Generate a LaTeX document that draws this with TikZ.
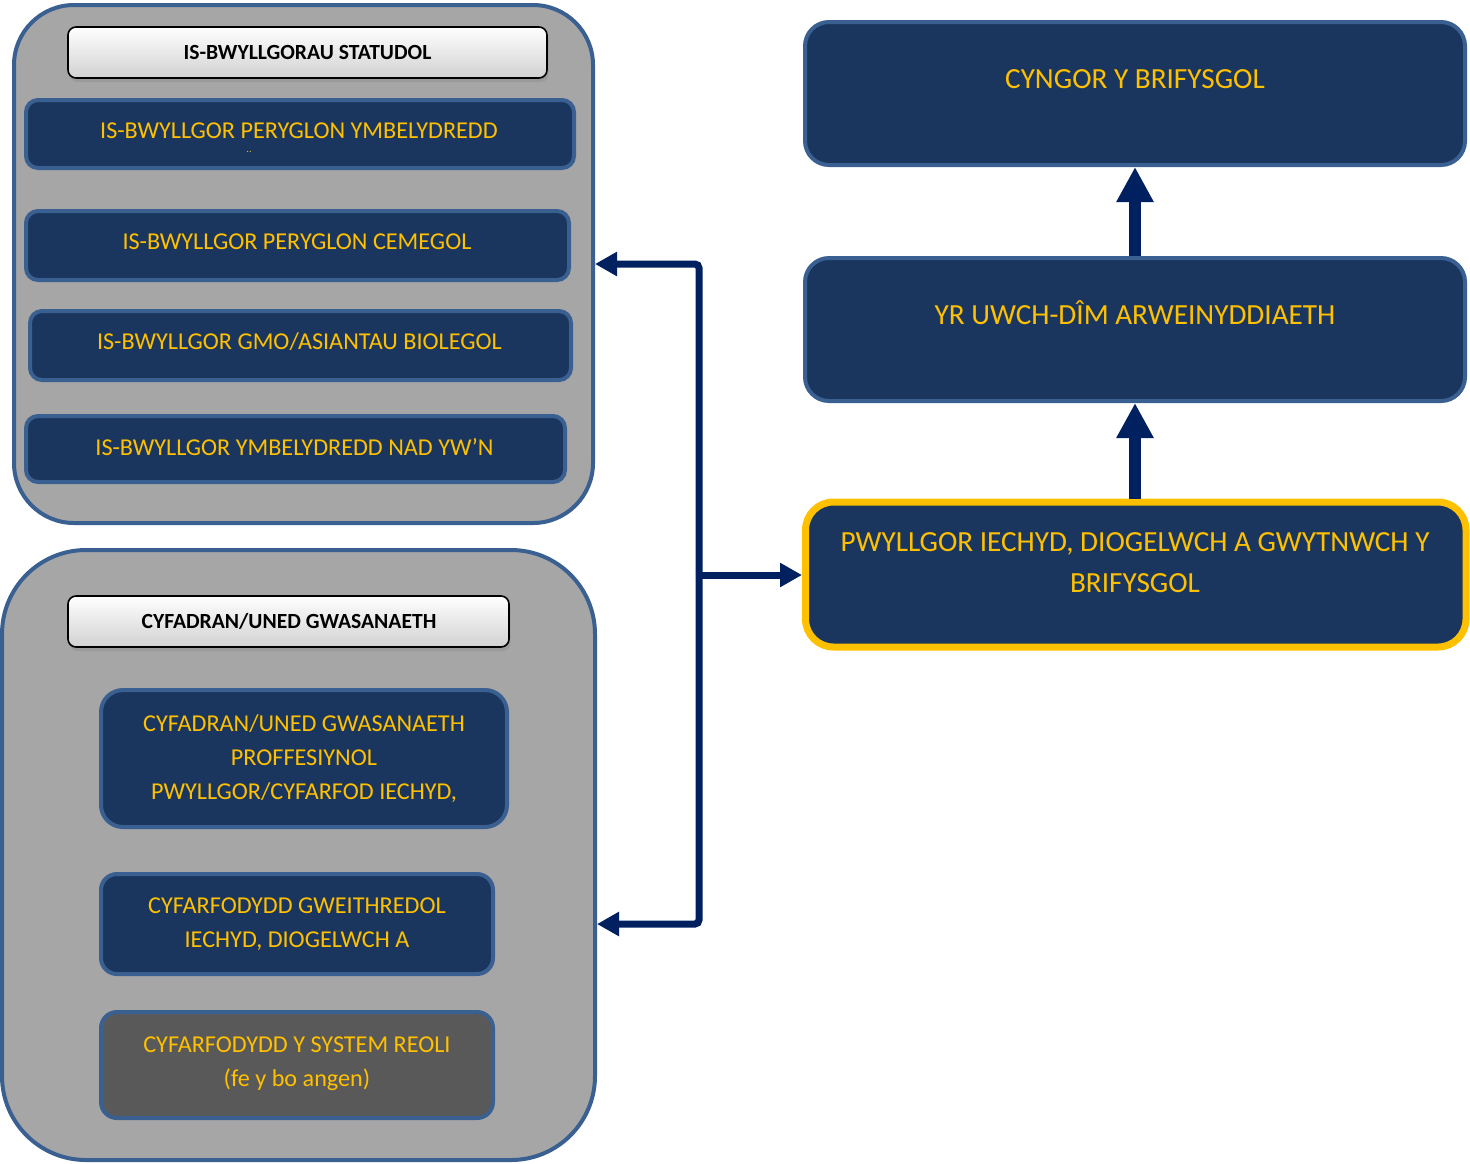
\documentclass[tikz,border=0pt]{standalone}
\usepackage{fontspec}
\setmainfont{Carlito}
\usetikzlibrary{arrows.meta,fit,shadows}
\definecolor{navy}{RGB}{27,54,94}
\definecolor{bord}{RGB}{58,96,145}
\definecolor{ylw}{RGB}{255,192,0}
\definecolor{arr}{RGB}{0,32,96}
\definecolor{cgray}{RGB}{166,166,166}
\definecolor{dgray}{RGB}{89,89,89}
\begin{document}
\begin{tikzpicture}[x=0.5pt,y=-0.5pt,
  container/.style={draw=bord, line width=2pt, fill=cgray, rounded corners=30pt, inner sep=0pt},
  hdr/.style={draw=black, line width=0.8pt, rounded corners=4pt, top color=white, bottom color=black!18,
    drop shadow={shadow xshift=0.8pt, shadow yshift=-2pt, opacity=0.3}, inner sep=0pt},
  htxt/.style={font=\bfseries\fontsize{10.8}{12}\selectfont, text=black, inner sep=0pt},
  bbox/.style={draw=bord, line width=2pt, fill=navy, rounded corners=6pt, inner sep=0pt},
  btxt/.style={text=ylw, font=\fontsize{12.1}{17}\selectfont, align=center, inner sep=0pt},
  rbox/.style={draw=bord, line width=2pt, fill=navy, rounded corners=12pt, inner sep=0pt},
  rtxt/.style={text=ylw, font=\fontsize{14.6}{20.5}\selectfont, align=center, inner sep=0pt},
  conn/.style={draw=arr, line width=3.5pt, -{Triangle[length=11pt,width=11.5pt]}, rounded corners=2pt},
  bigarr/.style={draw=arr, line width=6pt, -{Triangle[length=17.5pt,width=17.5pt]}}
]
\useasboundingbox (0,0) rectangle (1470,1163);

% ---- top-left container ----
\node[container, fit={(14,5) (593,523)}] (topc) {};
\node[hdr, fit={(68,27) (547,78)}] (h1) {};
\node[htxt] (h1t) at (307.5,52) {IS-BWYLLGORAU STATUDOL};
\node[bbox, fit={(26,100) (574,168)}] (s1) {};
\node[btxt] (s1t) at (299,131) {IS-BWYLLGOR PERYGLON YMBELYDREDD};
\node[text=ylw, font=\fontsize{5}{5}\selectfont, inner sep=0pt] (s1dots) at (249,152) {..};
\node[bbox, fit={(26,211) (569,280)}] (s2) {};
\node[btxt] (s2t) at (297,242) {IS-BWYLLGOR PERYGLON CEMEGOL};
\node[bbox, fit={(30,311) (571,380)}] (s3) {};
\node[btxt] (s3t) at (299.5,342) {IS-BWYLLGOR GMO/ASIANTAU BIOLEGOL};
\node[bbox, fit={(26,416) (565,482)}] (s4) {};
\node[btxt] (s4t) at (294.5,447) {IS-BWYLLGOR YMBELYDREDD NAD YW'N};

% ---- bottom-left container ----
\node[container, rounded corners=42pt, fit={(2,550) (595,1160)}] (botc) {};
\node[hdr, fit={(68,596) (509,647)}] (h2) {};
\node[htxt] (h2t) at (289,621) {CYFADRAN/UNED GWASANAETH};
\node[bbox, rounded corners=11pt, fit={(101,690) (507,827)}] (ba) {};
\node[btxt] (bat) at (304,758.5) {CYFADRAN/UNED GWASANAETH\\PROFFESIYNOL\\PWYLLGOR/CYFARFOD IECHYD,};
\node[bbox, rounded corners=8pt, fit={(101,874) (493,974)}] (bb) {};
\node[btxt] (bbt) at (297,924.5) {CYFARFODYDD GWEITHREDOL\\IECHYD, DIOGELWCH A};
\node[bbox, rounded corners=8pt, fill=dgray, fit={(101,1012) (493,1118)}] (bc) {};
\node[btxt] (bct) at (297,1064) {CYFARFODYDD Y SYSTEM REOLI\\(fe y bo angen)};

% ---- right column ----
\node[rbox, fit={(805,22) (1465,165)}] (cy) {};
\node[rtxt] (cyt) at (1135,79) {CYNGOR Y BRIFYSGOL};
\node[rbox, fit={(805,258) (1465,401)}] (uw) {};
\node[rtxt] (uwt) at (1135,313) {YR UWCH-DÎM ARWEINYDDIAETH};
\node[rbox, draw=ylw, line width=3.5pt, rounded corners=14pt, fit={(805.5,502) (1466,647)}] (pw) {};
\node[rtxt] (pwt) at (1135,563) {PWYLLGOR IECHYD, DIOGELWCH A GWYTNWCH Y\\BRIFYSGOL};

% ---- arrows ----
\draw[bigarr] (pw.north -| pwt) -- (uw.south -| pwt);
\draw[bigarr] (uw.north -| pwt) -- (cy.south -| pwt);

\coordinate (jn) at (699,575);
\draw[conn] (jn) -- (pw.west |- jn);
\draw[conn] (jn) |- (topc.east);
\draw[conn] (jn) |- (botc.east |- bb.east);
\end{tikzpicture}
\end{document}
